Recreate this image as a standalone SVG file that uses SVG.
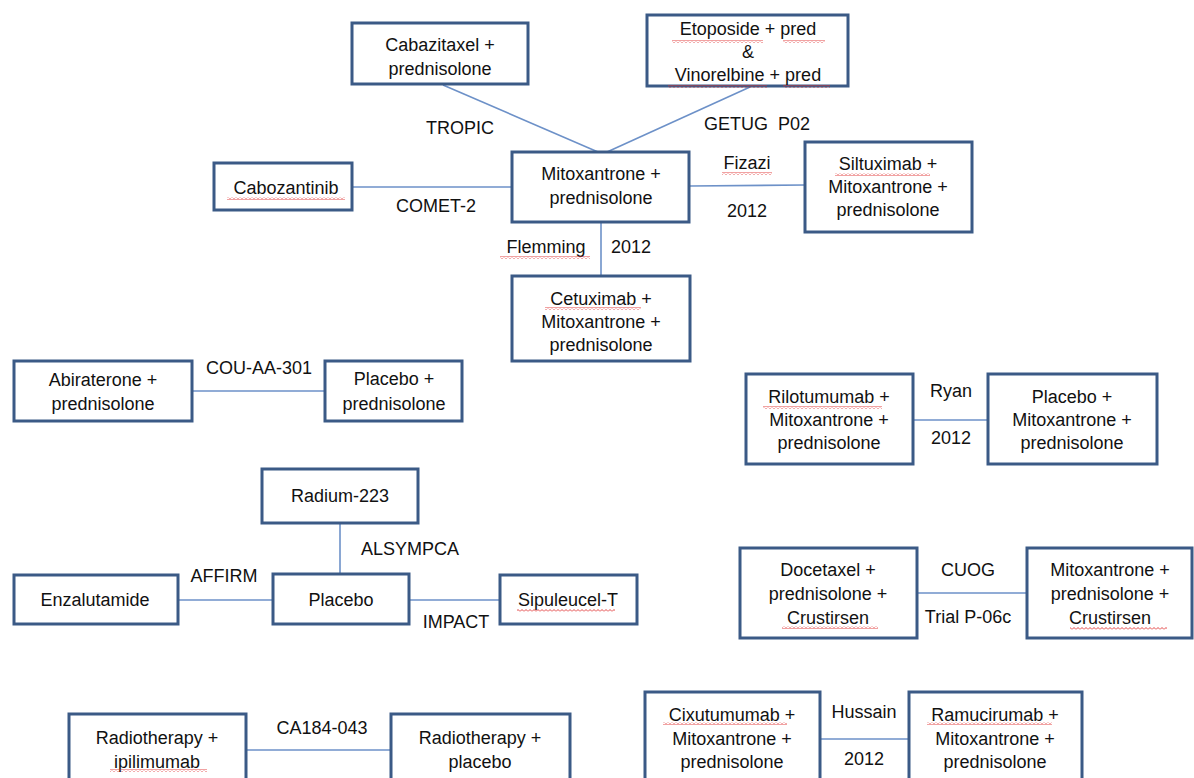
<svg xmlns="http://www.w3.org/2000/svg" width="1194" height="778" viewBox="0 0 1194 778">
<style>
  .box { fill: #ffffff; stroke: #3b5a86; stroke-width: 3; }
  .t { font-family: "Liberation Sans", Arial, sans-serif; font-size: 18px; fill: #111111; text-anchor: middle; }
  .conn line { stroke: #6d91c8; stroke-width: 1.6; }
  .sq { fill: url(#squiggle); }
</style>
<defs>
  <pattern id="squiggle" patternUnits="userSpaceOnUse" x="0" y="0" width="4" height="3">
    <polyline points="0,2.5 2,0.5 4,2.5" fill="none" stroke="#e03030" stroke-width="0.9"/>
  </pattern>
</defs>
<rect width="1194" height="778" fill="#ffffff"/>

<g id="connectors" class="conn">
  <line x1="443" y1="85" x2="598" y2="152"/>
  <line x1="750" y1="87" x2="607" y2="152"/>
  <line x1="352" y1="187" x2="512" y2="187"/>
  <line x1="690" y1="186" x2="805" y2="185"/>
  <line x1="601" y1="222" x2="601" y2="276"/>
  <line x1="192" y1="391" x2="325" y2="391"/>
  <line x1="913" y1="420" x2="988" y2="420"/>
  <line x1="340" y1="523" x2="340" y2="574"/>
  <line x1="178" y1="600" x2="273" y2="600"/>
  <line x1="409" y1="600" x2="500" y2="600"/>
  <line x1="917" y1="593" x2="1027" y2="593"/>
  <line x1="246" y1="750" x2="391" y2="750"/>
  <line x1="820" y1="739" x2="909" y2="739"/>
</g>

<g id="edge-labels" class="t">
  <text x="460" y="134">TROPIC</text>
  <text x="757" y="130" xml:space="preserve">GETUG  P02</text>
  <text x="436" y="212">COMET-2</text>
  <text x="747" y="169">Fizazi</text>
  <text x="747" y="217">2012</text>
  <text x="546" y="253">Flemming</text>
  <text x="631" y="253">2012</text>
  <text x="259" y="374">COU-AA-301</text>
  <text x="951" y="397">Ryan</text>
  <text x="951" y="444">2012</text>
  <text x="410" y="555">ALSYMPCA</text>
  <text x="224" y="582">AFFIRM</text>
  <text x="456" y="628">IMPACT</text>
  <text x="968" y="576">CUOG</text>
  <text x="968" y="623">Trial P-06c</text>
  <text x="322" y="734">CA184-043</text>
  <text x="864" y="718">Hussain</text>
  <text x="864" y="765">2012</text>
  <rect class="sq" x="722" y="172" width="50" height="3"/>
  <rect class="sq" x="500" y="256" width="90" height="3"/>
</g>

<g id="cabazitaxel">
  <rect class="box" x="352" y="23" width="176" height="61"/>
  <text class="t" x="440" y="51">Cabazitaxel +</text>
  <text class="t" x="440" y="75">prednisolone</text>
</g>

<g id="etoposide">
  <rect class="box" x="647" y="15" width="201" height="71"/>
  <text class="t" x="748" y="35">Etoposide + pred</text>
  <text class="t" x="748" y="58">&amp;</text>
  <text class="t" x="748" y="81">Vinorelbine + pred</text>
  <rect class="sq" x="672" y="40" width="91" height="3"/>
  <rect class="sq" x="783" y="40" width="42" height="3"/>
  <rect class="sq" x="668" y="85" width="99" height="3"/>
  <rect class="sq" x="783" y="85" width="47" height="3"/>
</g>

<g id="mitoxantrone">
  <rect class="box" x="512" y="152" width="177" height="70"/>
  <text class="t" x="601" y="180">Mitoxantrone +</text>
  <text class="t" x="601" y="204">prednisolone</text>
</g>

<g id="cabozantinib">
  <rect class="box" x="214" y="163" width="138" height="47"/>
  <text class="t" x="286" y="194">Cabozantinib</text>
  <rect class="sq" x="227" y="197" width="118" height="3"/>
</g>

<g id="siltuximab">
  <rect class="box" x="805" y="142" width="167" height="90"/>
  <text class="t" x="888" y="170">Siltuximab +</text>
  <text class="t" x="888" y="193">Mitoxantrone +</text>
  <text class="t" x="888" y="216">prednisolone</text>
  <rect class="sq" x="835" y="173" width="95" height="3"/>
</g>

<g id="cetuximab">
  <rect class="box" x="512" y="276" width="178" height="85"/>
  <text class="t" x="601" y="305">Cetuximab +</text>
  <text class="t" x="601" y="328">Mitoxantrone +</text>
  <text class="t" x="601" y="351">prednisolone</text>
  <rect class="sq" x="545" y="307" width="96" height="3"/>
</g>

<g id="abiraterone">
  <rect class="box" x="14" y="361" width="178" height="60"/>
  <text class="t" x="103" y="386">Abiraterone +</text>
  <text class="t" x="103" y="410">prednisolone</text>
</g>

<g id="placebo-pred">
  <rect class="box" x="325" y="361" width="137" height="60"/>
  <text class="t" x="394" y="385">Placebo +</text>
  <text class="t" x="394" y="410">prednisolone</text>
</g>

<g id="rilotumumab">
  <rect class="box" x="746" y="374" width="167" height="90"/>
  <text class="t" x="829" y="403">Rilotumumab +</text>
  <text class="t" x="829" y="426">Mitoxantrone +</text>
  <text class="t" x="829" y="449">prednisolone</text>
  <rect class="sq" x="763" y="406" width="119" height="3"/>
</g>

<g id="placebo-mito">
  <rect class="box" x="988" y="374" width="169" height="90"/>
  <text class="t" x="1072" y="403">Placebo +</text>
  <text class="t" x="1072" y="426">Mitoxantrone +</text>
  <text class="t" x="1072" y="449">prednisolone</text>
</g>

<g id="radium">
  <rect class="box" x="262" y="469" width="156" height="54"/>
  <text class="t" x="340" y="502">Radium-223</text>
</g>

<g id="placebo">
  <rect class="box" x="273" y="574" width="136" height="50"/>
  <text class="t" x="341" y="606">Placebo</text>
</g>

<g id="enzalutamide">
  <rect class="box" x="14" y="575" width="164" height="49"/>
  <text class="t" x="95" y="606">Enzalutamide</text>
</g>

<g id="sipuleucel">
  <rect class="box" x="500" y="575" width="137" height="49"/>
  <text class="t" x="568" y="606">Sipuleucel-T</text>
  <rect class="sq" x="517" y="609" width="98" height="3"/>
</g>

<g id="docetaxel">
  <rect class="box" x="740" y="548" width="177" height="90"/>
  <text class="t" x="828" y="576">Docetaxel +</text>
  <text class="t" x="828" y="600">prednisolone +</text>
  <text class="t" x="828" y="624">Crustirsen</text>
  <rect class="sq" x="782" y="626" width="96" height="3"/>
</g>

<g id="mito-crustirsen">
  <rect class="box" x="1027" y="548" width="165" height="90"/>
  <text class="t" x="1110" y="576">Mitoxantrone +</text>
  <text class="t" x="1110" y="600">prednisolone +</text>
  <text class="t" x="1110" y="624">Crustirsen</text>
  <rect class="sq" x="1070" y="627" width="97" height="3"/>
</g>

<g id="radiotherapy-ipi">
  <rect class="box" x="69" y="714" width="177" height="90"/>
  <text class="t" x="157" y="744">Radiotherapy +</text>
  <text class="t" x="157" y="768">ipilimumab</text>
  <rect class="sq" x="110" y="769" width="97" height="3"/>
</g>

<g id="radiotherapy-placebo">
  <rect class="box" x="391" y="714" width="179" height="90"/>
  <text class="t" x="480" y="744">Radiotherapy +</text>
  <text class="t" x="480" y="768">placebo</text>
</g>

<g id="cixutumumab">
  <rect class="box" x="645" y="692" width="175" height="110"/>
  <text class="t" x="732" y="721">Cixutumumab +</text>
  <text class="t" x="732" y="745">Mitoxantrone +</text>
  <text class="t" x="732" y="768">prednisolone</text>
  <rect class="sq" x="663" y="722" width="124" height="3"/>
</g>

<g id="ramucirumab">
  <rect class="box" x="909" y="692" width="173" height="110"/>
  <text class="t" x="995" y="721">Ramucirumab +</text>
  <text class="t" x="995" y="745">Mitoxantrone +</text>
  <text class="t" x="995" y="768">prednisolone</text>
  <rect class="sq" x="927" y="722" width="125" height="3"/>
</g>
</svg>
